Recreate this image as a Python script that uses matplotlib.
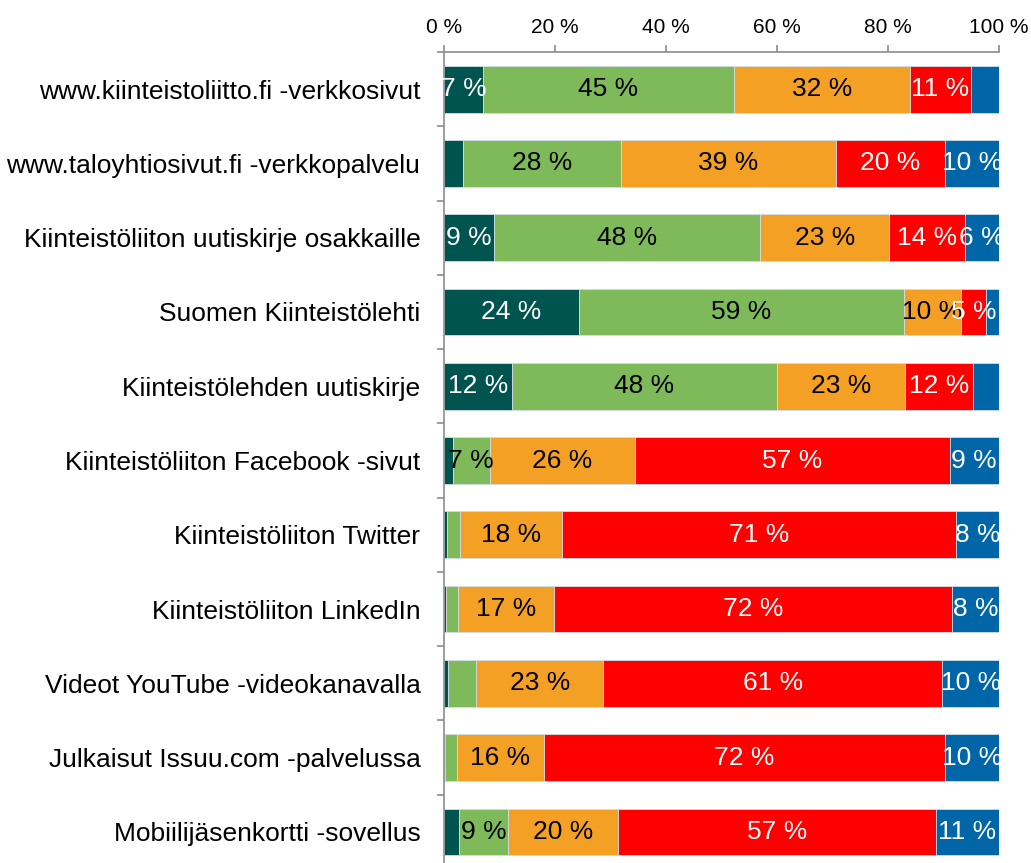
import matplotlib
matplotlib.use("Agg")
import matplotlib.pyplot as plt
import numpy as np

plt.rcParams['font.family'] = ['Liberation Sans', 'DejaVu Sans']

categories = [
    "www.kiinteistoliitto.fi -verkkosivut",
    "www.taloyhtiosivut.fi -verkkopalvelu",
    "Kiinteistöliiton uutiskirje osakkaille",
    "Suomen Kiinteistölehti",
    "Kiinteistölehden uutiskirje",
    "Kiinteistöliiton Facebook -sivut",
    "Kiinteistöliiton Twitter",
    "Kiinteistöliiton LinkedIn",
    "Videot YouTube -videokanavalla",
    "Julkaisut Issuu.com -palvelussa",
    "Mobiilijäsenkortti -sovellus",
]
teal = [7.0, 3.5, 9.0, 24.3, 12.2, 1.6, 0.5, 0.3, 0.7, 0.2, 2.7]
green = [45.3, 28.4, 48.0, 58.6, 47.8, 6.6, 2.4, 2.3, 5.1, 2.1, 8.8]
orange = [31.6, 38.7, 23.2, 10.2, 23.1, 26.3, 18.4, 17.2, 22.9, 15.7, 19.8]
red = [11.0, 19.6, 13.7, 4.6, 12.3, 56.6, 71.0, 71.8, 61.1, 72.2, 57.3]
blue = [5.1, 9.8, 6.1, 2.3, 4.6, 8.9, 7.7, 8.4, 10.2, 9.8, 11.4]
xticks = [0, 20, 40, 60, 80, 100]
# segments without a value label (row, series)
hidden = {(0, 4), (4, 4), (8, 1)}

series = [teal, green, orange, red, blue]
colors = ["#00544f", "#7fba5a", "#f4a025", "#ff0000", "#0066a8"]
txtcolors = ["white", "black", "black", "white", "white"]

fig = plt.figure(figsize=(10.31, 8.63), dpi=100)
ax = fig.add_axes([444/1031, -0.007, 555/1031, 0.9467])

n = len(categories)
y = np.arange(n)
left = np.zeros(n)
for si, (vals, col, tc) in enumerate(zip(series, colors, txtcolors)):
    vals = np.array(vals)
    ax.barh(y, vals, left=left, height=0.63, color=col,
            edgecolor="#d0dde8", linewidth=0.6)
    for i, v in enumerate(vals):
        if v >= 4.5 and (i, si) not in hidden:
            ax.text(left[i] + v/2, y[i], f"{int(round(v))} %", ha="center",
                    va="center", color=tc, fontsize=19)
    left += vals

ax.set_xlim(0, 100)
ax.set_ylim(n - 0.5, -0.5)
ax.xaxis.tick_top()
ax.set_xticks(xticks)
ax.set_xticklabels([f"{t} %" for t in xticks], fontsize=15)
ax.tick_params(axis="x", direction="out", length=5, width=1.2,
               color="#8c8c8c", pad=6)
ax.set_yticks(y)
ax.set_yticklabels(categories, fontsize=19)
ax.tick_params(axis="y", which="major", length=0, pad=17)
ax.set_yticks(np.arange(n + 1) - 0.5, minor=True)
ax.tick_params(axis="y", which="minor", direction="out", length=5,
               width=1.2, color="#8c8c8c")
for s in ["right", "bottom"]:
    ax.spines[s].set_visible(False)
for s in ["top", "left"]:
    ax.spines[s].set_color("#8c8c8c")
    ax.spines[s].set_linewidth(1.2)

fig.savefig("out.png", dpi=100)
